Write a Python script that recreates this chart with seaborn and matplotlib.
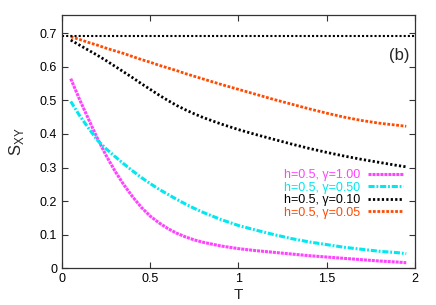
import numpy as np
import pandas as pd
import matplotlib
matplotlib.use("Agg")
import matplotlib.pyplot as plt
import seaborn as sns

T = [0.05, 0.1, 0.15, 0.2, 0.25, 0.3, 0.35, 0.4, 0.45, 0.5, 0.55, 0.6, 0.65, 0.7, 0.75,
     0.8, 0.9, 1.0, 1.1, 1.2, 1.3, 1.4, 1.5, 1.6, 1.7, 1.8, 1.9, 1.95]

s_g100 = [0.565, 0.503, 0.445, 0.388, 0.336, 0.290, 0.249, 0.213, 0.181, 0.155, 0.135, 0.118,
          0.104, 0.093, 0.084, 0.077, 0.066, 0.058, 0.052, 0.047, 0.042, 0.037, 0.033, 0.029,
          0.025, 0.021, 0.018, 0.016]
s_g050 = [0.497, 0.455, 0.418, 0.382, 0.356, 0.333, 0.311, 0.290, 0.270, 0.252, 0.235, 0.220,
          0.205, 0.191, 0.178, 0.166, 0.145, 0.127, 0.113, 0.100, 0.088, 0.078, 0.070, 0.062,
          0.056, 0.050, 0.046, 0.043]
s_g010 = [0.680, 0.665, 0.650, 0.635, 0.619, 0.602, 0.585, 0.568, 0.550, 0.533, 0.516, 0.500,
          0.485, 0.472, 0.460, 0.449, 0.430, 0.413, 0.398, 0.384, 0.370, 0.357, 0.345, 0.334,
          0.324, 0.315, 0.306, 0.302]
s_g005 = [0.690, 0.682, 0.673, 0.665, 0.656, 0.648, 0.640, 0.631, 0.622, 0.614, 0.605, 0.597,
          0.589, 0.580, 0.572, 0.564, 0.548, 0.533, 0.518, 0.503, 0.489, 0.475, 0.462, 0.450,
          0.440, 0.432, 0.426, 0.423]
ln2 = 0.693

labels = ["h=0.5, γ=1.00", "h=0.5, γ=0.50", "h=0.5, γ=0.10", "h=0.5, γ=0.05"]
colors = ["#ff44ff", "#00e8f0", "#000000", "#ff4a00"]
series = [s_g100, s_g050, s_g010, s_g005]

df = pd.concat([pd.DataFrame({"T": T, "S": s, "case": lab}) for lab, s in zip(labels, series)])

sns.set_style("ticks")
plt.rcParams["font.family"] = ["Liberation Sans", "DejaVu Sans"]

fig = plt.figure(figsize=(4.36, 3.05), dpi=100)
ax = fig.add_axes([0.142, 0.121, 0.810, 0.830])

sns.lineplot(data=df, x="T", y="S", hue="case", palette=colors, hue_order=labels,
             ax=ax, legend=False, sort=False)

styles = [(0, (1, 0.3)), (0, (2, 0.6, 0.6, 0.6)), (0, (0.8, 0.8)), (0, (1, 0.6))]
widths = [2.2, 2.2, 2.0, 2.0]
for line, ls, lw in zip(ax.get_lines(), styles, widths):
    line.set_linestyle(ls)
    line.set_linewidth(lw)

ax.axhline(ln2, color="black", linestyle=(0, (1, 1)), linewidth=1.5)

ax.set_xlim(0, 2)
ax.set_ylim(0, 0.755)
ax.set_xticks([0, 0.5, 1, 1.5, 2])
ax.set_xticklabels(["0", "0.5", "1", "1.5", "2"])
ax.set_yticks([0, 0.1, 0.2, 0.3, 0.4, 0.5, 0.6, 0.7])
ax.set_yticklabels(["0", "0.1", "0.2", "0.3", "0.4", "0.5", "0.6", "0.7"])
ax.tick_params(direction="in", top=True, right=True, length=4, width=0.8,
               labelsize=9, colors="#333333", labelcolor="black")
for sp in ax.spines.values():
    sp.set_color("#333333")
    sp.set_linewidth(0.9)

ax.set_xlabel("T", fontsize=11, labelpad=2)
ax.set_ylabel("S$_{\\mathregular{XY}}$", fontsize=12, labelpad=10)

ax.text(0.985, 0.84, "(b)", transform=ax.transAxes, ha="right", va="center", fontsize=12)

handles = [plt.Line2D([], [], color=c, linestyle=ls, linewidth=lw)
           for c, ls, lw in zip(colors, styles, widths)]
leg = ax.legend(handles, labels, loc="lower right", bbox_to_anchor=(0.99, 0.16),
                frameon=False, markerfirst=False, fontsize=9, handlelength=2.8,
                handletextpad=0.6, labelspacing=0.05, borderpad=0.2)
for txt, c in zip(leg.get_texts(), colors):
    txt.set_color(c)

fig.savefig("out.png", dpi=100)
